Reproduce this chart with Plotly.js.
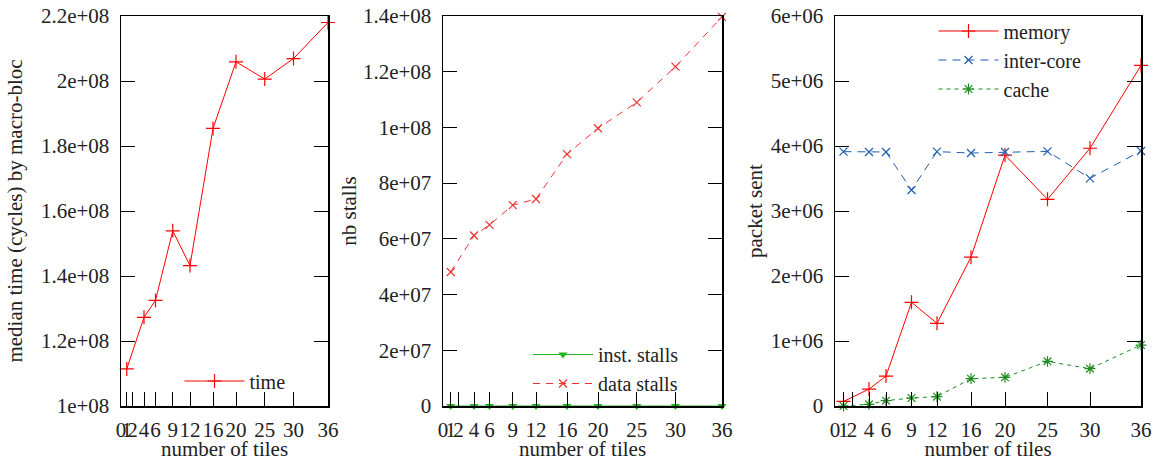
<!DOCTYPE html>
<html>
<head>
<meta charset="utf-8">
<script src="https://cdn.plot.ly/plotly-3.0.1.min.js"></script>
<style>html,body{margin:0;padding:0;background:#fff;}#chart{width:1161px;height:461px;}</style>
</head>
<body>
<div id="chart"></div>
<script>
// ---- data ----
const tiles = [1, 4, 6, 9, 12, 16, 20, 25, 30, 36];
const medianTime = [1.114e8, 1.273e8, 1.325e8, 1.539e8, 1.432e8, 1.854e8, 2.059e8, 2.006e8, 2.069e8, 2.18e8];
const instStalls = [0, 0, 0, 0, 0, 0, 0, 0, 0, 0];
const dataStalls = [4.81e7, 6.12e7, 6.50e7, 7.21e7, 7.43e7, 9.04e7, 9.97e7, 1.09e8, 1.218e8, 1.397e8];
const memoryPackets = [7.0e4, 2.6e5, 4.6e5, 1.595e6, 1.272e6, 2.29e6, 3.86e6, 3.18e6, 3.965e6, 5.24e6];
const interCorePackets = [3.913e6, 3.908e6, 3.908e6, 3.323e6, 3.913e6, 3.892e6, 3.908e6, 3.918e6, 3.503e6, 3.923e6];
const cachePackets = [0, 2.6e4, 8.2e4, 1.23e5, 1.44e5, 4.2e5, 4.41e5, 6.87e5, 5.74e5, 9.38e5];

const xTickVals = [0, 1, 2, 4, 6, 9, 12, 16, 20, 25, 30, 36];
const xTickText = ["0", "1", "2", "4", "6", "9", "12", "16", "20", "25", "30", "36"];
const y1TickVals = [1e8, 1.2e8, 1.4e8, 1.6e8, 1.8e8, 2e8, 2.2e8];
const y1TickText = ["1e+08", "1.2e+08", "1.4e+08", "1.6e+08", "1.8e+08", "2e+08", "2.2e+08"];
const y2TickVals = [0, 2e7, 4e7, 6e7, 8e7, 1e8, 1.2e8, 1.4e8];
const y2TickText = ["0", "2e+07", "4e+07", "6e+07", "8e+07", "1e+08", "1.2e+08", "1.4e+08"];
const y3TickVals = [0, 1e6, 2e6, 3e6, 4e6, 5e6, 6e6];
const y3TickText = ["0", "1e+06", "2e+06", "3e+06", "4e+06", "5e+06", "6e+06"];

const FONT = "Liberation Serif, Times New Roman, serif";
const FS = 21;
const TXT = "#222";

function xAxis(domain, anchor) {
  return {
    domain: domain, anchor: anchor, range: [0, 36],
    tickmode: "array", tickvals: xTickVals, ticktext: xTickText, tickangle: 0,
    ticks: "inside", ticklen: 14, tickwidth: 1, tickcolor: "#000",
    showline: true, linecolor: "#000", linewidth: 1.5, mirror: true,
    showgrid: false, zeroline: false, automargin: false,
    ticklabelstandoff: 4,
    tickfont: {family: FONT, size: FS, color: TXT},
    title: {text: "number of tiles", font: {family: FONT, size: FS, color: TXT}, standoff: 0}
  };
}
function yAxis(domain, anchor, range, vals, text, title, standoff) {
  return {
    domain: domain, anchor: anchor, range: range,
    tickmode: "array", tickvals: vals, ticktext: text,
    ticks: "inside", ticklen: 14, tickwidth: 1, tickcolor: "#000",
    showline: true, linecolor: "#000", linewidth: 1.5, mirror: "ticks",
    showgrid: false, zeroline: false, automargin: false,
    ticklabelstandoff: 6,
    tickfont: {family: FONT, size: FS, color: TXT},
    title: {text: title, font: {family: FONT, size: FS, color: TXT}, standoff: standoff}
  };
}

const yDom = [1 - 406 / 461, 1 - 16 / 461];

const traces = [
  {x: tiles, y: medianTime, name: "time", type: "scatter", mode: "lines+markers",
   xaxis: "x", yaxis: "y", legend: "legend", cliponaxis: false,
   line: {color: "#ff0000", width: 1},
   marker: {symbol: "cross-thin-open", size: 10, line: {color: "#ff0000", width: 1.2}}},
  {x: tiles, y: instStalls, name: "inst. stalls", type: "scatter", mode: "lines+markers",
   xaxis: "x2", yaxis: "y2", legend: "legend2", cliponaxis: false,
   line: {color: "#22b522", width: 1},
   marker: {symbol: "triangle-down", size: 8, color: "#22b522"}},
  {x: tiles, y: dataStalls, name: "data stalls", type: "scatter", mode: "lines+markers",
   xaxis: "x2", yaxis: "y2", legend: "legend2", cliponaxis: false,
   line: {color: "#f03030", width: 1, dash: "7px,6px"},
   marker: {symbol: "x-thin-open", size: 8, line: {color: "#f03030", width: 1.2}}},
  {x: tiles, y: memoryPackets, name: "memory", type: "scatter", mode: "lines+markers",
   xaxis: "x3", yaxis: "y3", legend: "legend3", cliponaxis: false,
   line: {color: "#ff0000", width: 1},
   marker: {symbol: "cross-thin-open", size: 10, line: {color: "#ff0000", width: 1.2}}},
  {x: tiles, y: interCorePackets, name: "inter-core", type: "scatter", mode: "lines+markers",
   xaxis: "x3", yaxis: "y3", legend: "legend3", cliponaxis: false,
   line: {color: "#1f5fae", width: 1, dash: "8px,6px"},
   marker: {symbol: "x-thin-open", size: 8, line: {color: "#1f5fae", width: 1.2}}},
  {x: tiles, y: cachePackets, name: "cache", type: "scatter", mode: "lines+markers",
   xaxis: "x3", yaxis: "y3", legend: "legend3", cliponaxis: false,
   line: {color: "#1e8c1e", width: 1, dash: "4px,4px"},
   marker: {symbol: "asterisk-open", size: 9, line: {color: "#1e8c1e", width: 1.2}}}
];

const legendBase = {
  bgcolor: "rgba(0,0,0,0)", borderwidth: 0,
  font: {family: FONT, size: 20, color: TXT},
  xref: "paper", yref: "paper", yanchor: "middle", xanchor: "center",
  tracegroupgap: 0, itemwidth: 60
};

const layout = {
  width: 1161, height: 461,
  margin: {l: 0, r: 0, t: 0, b: 0},
  paper_bgcolor: "#fff", plot_bgcolor: "#fff",
  showlegend: true,
  xaxis: xAxis([121 / 1161, 328 / 1161], "y"),
  yaxis: yAxis(yDom, "x", [1e8, 2.2e8], y1TickVals, y1TickText, "median time (cycles) by macro-bloc", 12),
  xaxis2: xAxis([443 / 1161, 722 / 1161], "y2"),
  yaxis2: yAxis(yDom, "x2", [0, 1.4e8], y2TickVals, y2TickText, "nb stalls", 0),
  xaxis3: xAxis([835 / 1161, 1141 / 1161], "y3"),
  yaxis3: yAxis(yDom, "x3", [0, 6e6], y3TickVals, y3TickText, "packet sent", 2),
  legend: Object.assign({}, legendBase, {x: 235 / 1161, y: 1 - 381 / 461}),
  legend2: Object.assign({}, legendBase, {x: 606 / 1161, y: 1 - 369 / 461}),
  legend3: Object.assign({}, legendBase, {x: 1010 / 1161, y: 1 - 60 / 461})
};

Plotly.newPlot("chart", traces, layout, {displayModeBar: false, staticPlot: true});
</script>
</body>
</html>
